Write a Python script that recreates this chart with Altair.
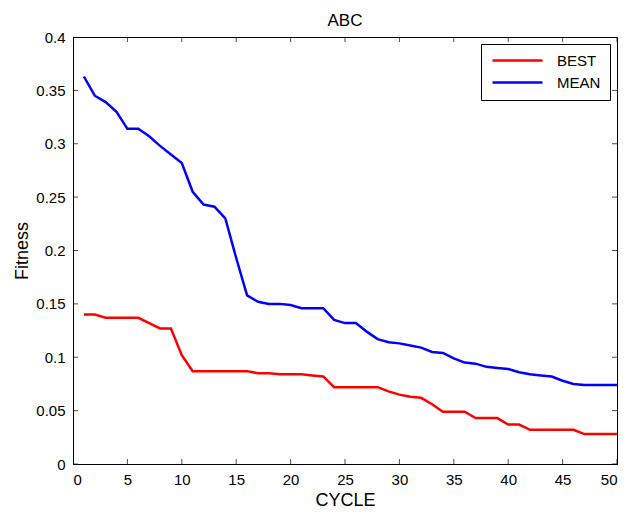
import altair as alt
import pandas as pd

cycles = list(range(1, 51))
best = [0.140, 0.140, 0.137, 0.137, 0.137, 0.137, 0.132, 0.127, 0.127, 0.102,
        0.087, 0.087, 0.087, 0.087, 0.087, 0.087, 0.085, 0.085, 0.084, 0.084,
        0.084, 0.083, 0.082, 0.072, 0.072, 0.072, 0.072, 0.072, 0.068, 0.065,
        0.063, 0.062, 0.056, 0.049, 0.049, 0.049, 0.043, 0.043, 0.043, 0.037,
        0.037, 0.032, 0.032, 0.032, 0.032, 0.032, 0.028, 0.028, 0.028, 0.028]
mean = [0.363, 0.345, 0.339, 0.330, 0.314, 0.314, 0.307, 0.298, 0.290, 0.282,
        0.255, 0.243, 0.241, 0.230, 0.193, 0.158, 0.152, 0.150, 0.150, 0.149,
        0.146, 0.146, 0.146, 0.135, 0.132, 0.132, 0.124, 0.117, 0.114, 0.113,
        0.111, 0.109, 0.105, 0.104, 0.099, 0.095, 0.094, 0.091, 0.090, 0.089,
        0.086, 0.084, 0.083, 0.082, 0.078, 0.075, 0.074, 0.074, 0.074, 0.074]
series_names = ["BEST", "MEAN"]
series_colors = ["#ff0000", "#0000ff"]
x_ticks = [0, 5, 10, 15, 20, 25, 30, 35, 40, 45, 50]
y_ticks = [0, 0.05, 0.1, 0.15, 0.2, 0.25, 0.3, 0.35, 0.4]

df = pd.DataFrame({
    "CYCLE": cycles * 2,
    "Fitness": best + mean,
    "series": ["BEST"] * len(best) + ["MEAN"] * len(mean),
})
xt = pd.DataFrame({"t": x_ticks})
yt = pd.DataFrame({"t": y_ticks})

font = "Liberation Sans"
xscale = alt.Scale(domain=[0, 50], nice=False)
yscale = alt.Scale(domain=[0, 0.4], nice=False)

axis_common = dict(grid=False, tickSize=0, labelFontSize=15, titleFontSize=18,
                   titleFontWeight="normal", labelFont=font, titleFont=font,
                   domainColor="black", labelColor="black", titleColor="black")

lines = alt.Chart(df).mark_line(strokeWidth=2.5).encode(
    x=alt.X("CYCLE:Q", scale=xscale,
            axis=alt.Axis(values=x_ticks, title="CYCLE", labelPadding=8,
                          titlePadding=4, **axis_common)),
    y=alt.Y("Fitness:Q", scale=yscale,
            axis=alt.Axis(values=y_ticks, format="~g", title="Fitness",
                          labelPadding=8, titlePadding=4, **axis_common)),
    color=alt.Color("series:N",
                    scale=alt.Scale(domain=series_names, range=series_colors),
                    legend=alt.Legend(title=None, orient="top-right", offset=7,
                                      symbolType="M-1,0H9", symbolSize=100,
                                      symbolStrokeWidth=2.5, labelOffset=52,
                                      labelFontSize=15, labelFont=font,
                                      labelColor="black", fillColor="white",
                                      strokeColor="black", padding=9,
                                      rowPadding=6)),
)

tick_style = dict(color="black", size=10, thickness=1, clip=True)
bottom_ticks = alt.Chart(xt).mark_tick(orient="vertical", **tick_style).encode(
    x=alt.X("t:Q", scale=xscale), y=alt.datum(0))
top_ticks = alt.Chart(xt).mark_tick(orient="vertical", **tick_style).encode(
    x=alt.X("t:Q", scale=xscale), y=alt.datum(0.4))
left_ticks = alt.Chart(yt).mark_tick(orient="horizontal", **tick_style).encode(
    y=alt.Y("t:Q", scale=yscale), x=alt.datum(0))
right_ticks = alt.Chart(yt).mark_tick(orient="horizontal", **tick_style).encode(
    y=alt.Y("t:Q", scale=yscale), x=alt.datum(50))

chart = alt.layer(lines, bottom_ticks, top_ticks, left_ticks, right_ticks).properties(
    width=614,
    height=501,
    autosize=alt.AutoSizeParams(type="fit", contains="padding"),
    padding={"left": 5, "top": 4, "right": 0, "bottom": 0},
    title=alt.TitleParams("ABC", fontSize=17, fontWeight="normal", font=font,
                          color="black", offset=0),
).configure_view(stroke="black", strokeWidth=1)

chart.save("out.html", embed_options={"renderer": "svg", "actions": False})
